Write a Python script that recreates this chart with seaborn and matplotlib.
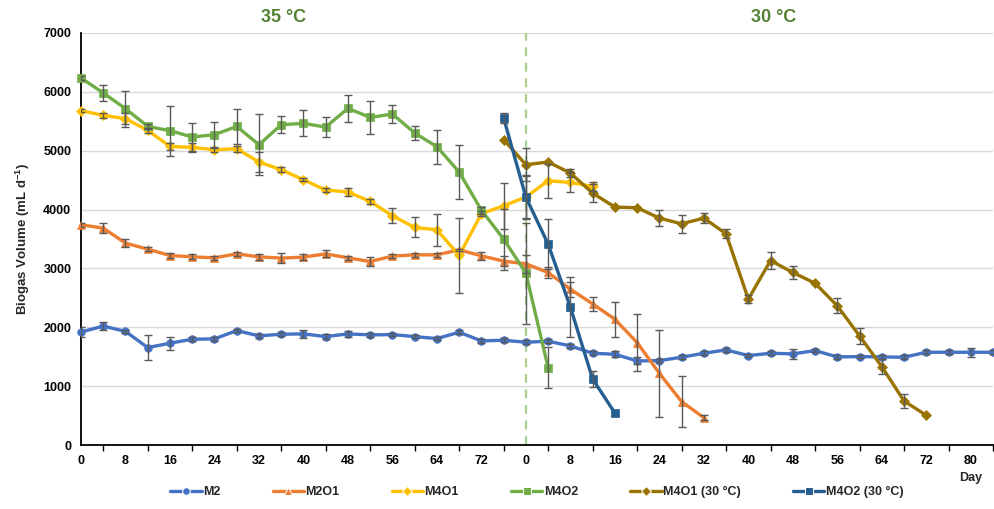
import matplotlib

matplotlib.use("Agg")

import matplotlib.pyplot as plt
import numpy as np
import pandas as pd
import seaborn as sns
from matplotlib.ticker import FixedLocator, MultipleLocator

sns.set_theme(style="white")
plt.rcParams.update({
    "font.family": ["Liberation Sans", "DejaVu Sans"],
    "font.weight": "bold",
    "mathtext.fontset": "custom",
    "mathtext.rm": "Liberation Sans:bold",
    "mathtext.bf": "Liberation Sans:bold",
})

# Sampling days: phase 1 at 35 °C, phase 2 at 30 °C (day -4 sits before the switch).
days_35 = list(range(0, 80, 4))
days_30 = list(range(0, 88, 4))
phase_offset = 80

m2_35 = [1920, 2020, 1930, 1655, 1730, 1797, 1803, 1944, 1854, 1882,
         1888, 1842, 1888, 1871, 1876, 1842, 1808, 1916, 1769, 1780]
m2_35_err = [80, 70, 30, 210, 110, 30, 30, 30, 30, 30,
             70, 40, 50, 30, 30, 30, 30, 30, 30, 30]
m2_30 = [1746, 1763, 1684, 1559, 1542, 1429, 1434, 1491, 1559, 1616, 1519,
         1559, 1548, 1604, 1497, 1502, 1497, 1491, 1576, 1576, 1576, 1576]
m2_30_err = [30, 30, 30, 30, 50, 60, 30, 30, 30, 30, 30,
             30, 90, 30, 30, 30, 30, 30, 30, 30, 77, 30]

m2o1_35 = [3741, 3685, 3430, 3328, 3219, 3197, 3180, 3248, 3197, 3175,
           3192, 3248, 3180, 3118, 3209, 3231, 3231, 3316, 3214, 3124]
m2o1_35_err = [30, 80, 70, 40, 40, 40, 30, 30, 50, 80,
               50, 60, 30, 70, 30, 30, 30, 20, 70, 80]
m2o1_30 = [3078, 2931, 2647, 2398, 2137, 1740, 1219, 737, 465]
m2o1_30_err = [150, 100, 130, 125, 300, 490, 740, 430, 40]

m4o1_35 = [5680, 5601, 5544, 5345, 5073, 5056, 5017, 5034, 4808, 4677,
           4507, 4331, 4300, 4138, 3895, 3696, 3656, 3220, 3930, 4065]
m4o1_35_err = [30, 40, 90, 40, 60, 80, 40, 50, 165, 40,
               30, 30, 70, 40, 130, 170, 275, 630, 40, 390]
m4o1_30 = [4212, 4490, 4461, 4393]
m4o1_30_err = [360, 290, 170, 80]

m4o2_35 = [6236, 5981, 5714, 5413, 5340, 5233, 5272, 5413, 5102, 5442,
           5464, 5402, 5720, 5566, 5623, 5301, 5068, 4637, 3990, 3498]
m4o2_35_err = [40, 140, 305, 40, 425, 240, 220, 300, 520, 140,
               220, 170, 230, 285, 155, 115, 290, 455, 60, 520]
m4o2_30 = [2920, 1315]
m4o2_30_err = [860, 345]

m4o1_cold_days = list(range(-4, 76, 4))
m4o1_cold = [5187, 4762, 4808, 4620, 4280, 4042, 4031, 3855, 3758, 3855,
             3588, 2478, 3134, 2931, 2749, 2364, 1854, 1332, 748, 505]
m4o1_cold_err = [0, 280, 0, 70, 150, 0, 0, 130, 150, 80,
                 75, 65, 147, 113, 0, 128, 136, 130, 119, 0]

m4o2_cold_days = list(range(-4, 20, 4))
m4o2_cold = [5556, 4212, 3413, 2342, 1122, 544]
m4o2_cold_err = [90, 370, 430, 510, 140, 0]

series_names = ["M2", "M2O1", "M4O1", "M4O2", "M4O1 (30 °C)", "M4O2 (30 °C)"]
series_colors = ["#4472C4", "#ED7D31", "#FFC000", "#70AD47", "#997300", "#255E91"]
series_markers = ["o", "^", "D", "s", "D", "s"]

tick_labels_35 = [str(d) for d in range(0, 80, 8)]
tick_labels_30 = [str(d) for d in range(0, 88, 8)]


def frame(name, d35, v35, e35, d30, v30, e30):
    pos = [d for d in d35] + [phase_offset + d for d in d30]
    return pd.DataFrame({
        "pos": pos,
        "volume": list(v35) + list(v30),
        "err": list(e35) + list(e30),
        "series": name,
    })


df = pd.concat([
    frame("M2", days_35, m2_35, m2_35_err, days_30, m2_30, m2_30_err),
    frame("M2O1", days_35, m2o1_35, m2o1_35_err, days_30[:len(m2o1_30)], m2o1_30, m2o1_30_err),
    frame("M4O1", days_35, m4o1_35, m4o1_35_err, days_30[:len(m4o1_30)], m4o1_30, m4o1_30_err),
    frame("M4O2", days_35, m4o2_35, m4o2_35_err, days_30[:len(m4o2_30)], m4o2_30, m4o2_30_err),
    frame("M4O1 (30 °C)", [], [], [], m4o1_cold_days, m4o1_cold, m4o1_cold_err),
    frame("M4O2 (30 °C)", [], [], [], m4o2_cold_days, m4o2_cold, m4o2_cold_err),
], ignore_index=True)

fig = plt.figure(figsize=(9.94, 5.09), dpi=100)
ax = fig.add_axes([0.0815, 0.1257, 0.9175, 0.8095])

sns.lineplot(
    data=df, x="pos", y="volume", hue="series", style="series",
    hue_order=series_names, style_order=series_names,
    palette=dict(zip(series_names, series_colors)),
    markers=dict(zip(series_names, series_markers)),
    dashes=False, estimator=None, errorbar=None, sort=True,
    linewidth=2.4, markersize=5.5, ax=ax,
)
for line in ax.get_lines():
    line.set_markeredgecolor(line.get_color())
    line.set_markeredgewidth(0.5)
    line.set_clip_on(False)
    line.set_zorder(3)

bars = df[df["err"] > 0]
ax.errorbar(bars["pos"], bars["volume"], yerr=bars["err"], fmt="none",
            ecolor="#595959", elinewidth=1.0, capsize=2.6, capthick=1.0, zorder=4)

ax.axvline(phase_offset, color="#A9D18E", linestyle=(0, (4, 3)), linewidth=1.6, zorder=2)

ax.set_xlim(0, 164)
ax.set_ylim(0, 7000)
ax.yaxis.set_major_locator(MultipleLocator(1000))
ax.xaxis.set_major_locator(FixedLocator(np.arange(0, 168, 8)))
ax.xaxis.set_minor_locator(MultipleLocator(4))
ax.set_xticklabels(tick_labels_35 + tick_labels_30)
ax.grid(axis="y", color="#D9D9D9", linewidth=1.0)
ax.set_axisbelow(True)
sns.despine(ax=ax)
for side in ["left", "bottom"]:
    ax.spines[side].set_color("black")
    ax.spines[side].set_linewidth(1.3)
ax.tick_params(axis="both", which="both", direction="out", colors="black",
               labelsize=9, width=1.0)
ax.tick_params(axis="both", which="major", length=4, pad=3)
ax.tick_params(axis="x", which="minor", length=4, bottom=True)
ax.set_xlabel("")
ax.set_ylabel(r"Biogas Volume (mL d$^{-1}$)", fontsize=9.5, fontweight="bold", labelpad=8)

fig.text(0.285, 0.966, "35 °C", color="#548235", fontsize=13, fontweight="bold",
         ha="center", va="center")
fig.text(0.778, 0.966, "30 °C", color="#548235", fontsize=13, fontweight="bold",
         ha="center", va="center")
fig.text(0.977, 0.061, "Day", fontsize=9, fontweight="bold", ha="center", va="center")

sns.move_legend(ax, "center", bbox_to_anchor=(0.54, 0.033), bbox_transform=fig.transFigure,
                ncol=6, frameon=False, title=None, fontsize=9, columnspacing=4.2,
                handlelength=2.5, handletextpad=0.1)

fig.savefig("out.png", dpi=100, facecolor="white")
